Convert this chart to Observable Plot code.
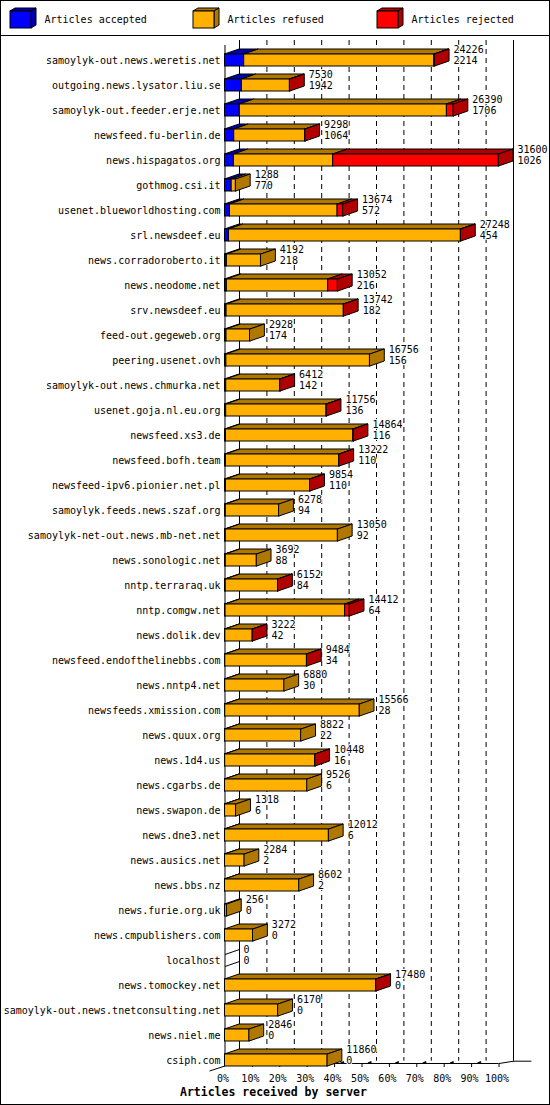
<!DOCTYPE html>
<html><head><meta charset="utf-8">
<script src="https://cdn.jsdelivr.net/npm/d3@7"></script>
<script src="https://cdn.jsdelivr.net/npm/@observablehq/plot@0.6"></script>
<style>
body{margin:0;background:#fff}
#wrap{position:relative;width:550px;height:1105px;overflow:hidden;font-family:"DejaVu Sans Mono",monospace;background:#fff}
#frame{position:absolute;left:0;top:0;width:550px;height:1105px;box-sizing:border-box;border:1px solid #000;pointer-events:none}
#sep{position:absolute;left:0;top:35px;width:550px;height:1px;background:#000}
#legend{position:absolute;left:0;top:0}
#chart{position:absolute;left:0;top:36px}
#title{position:absolute;left:180px;top:1085px;font-size:11.5px;font-weight:bold;line-height:14px;white-space:nowrap}
</style>
</head><body>
<div id="wrap">
  <svg id="legend" width="550" height="35"></svg>
  <div id="sep"></div>
  <div id="chart"></div>
  <div id="title">Articles received by server</div>
  <div id="frame"></div>
</div>
<script>
const servers = [
 "samoylyk-out.news.weretis.net","outgoing.news.lysator.liu.se","samoylyk-out.feeder.erje.net",
 "newsfeed.fu-berlin.de","news.hispagatos.org","gothmog.csi.it","usenet.blueworldhosting.com",
 "srl.newsdeef.eu","news.corradoroberto.it","news.neodome.net","srv.newsdeef.eu","feed-out.gegeweb.org",
 "peering.usenet.ovh","samoylyk-out.news.chmurka.net","usenet.goja.nl.eu.org","newsfeed.xs3.de",
 "newsfeed.bofh.team","newsfeed-ipv6.pionier.net.pl","samoylyk.feeds.news.szaf.org",
 "samoylyk-net-out.news.mb-net.net","news.sonologic.net","nntp.terraraq.uk","nntp.comgw.net",
 "news.dolik.dev","newsfeed.endofthelinebbs.com","news.nntp4.net","newsfeeds.xmission.com",
 "news.quux.org","news.1d4.us","news.cgarbs.de","news.swapon.de","news.dne3.net","news.ausics.net",
 "news.bbs.nz","news.furie.org.uk","news.cmpublishers.com","localhost","news.tomockey.net",
 "samoylyk-out.news.tnetconsulting.net","news.niel.me","csiph.com"];
const totals = [24226,7530,26390,9298,31600,1288,13674,27248,4192,13052,13742,2928,16756,6412,11756,
 14864,13222,9854,6278,13050,3692,6152,14412,3222,9484,6880,15566,8822,10448,9526,1318,12012,2284,
 8602,256,3272,0,17480,6170,2846,11860];
const accepted = [2214,1942,1706,1064,1026,770,572,454,218,216,182,174,156,142,136,116,110,110,94,92,
 88,84,64,42,34,30,28,22,16,6,6,6,2,2,0,0,0,0,0,0,0];
// (red part of each bar)
const rejected = [80,40,800,30,19122,0,690,40,0,1150,30,0,0,20,30,60,20,20,0,0,0,20,560,10,10,0,0,0,
 10,0,0,0,0,0,0,0,0,10,0,0,0];
const tickLabels = ["0%","10%","20%","30%","40%","50%","60%","70%","80%","90%","100%"];
const seriesNames = ["Articles accepted","Articles refused","Articles rejected"];
const frontColors = ["#0000ff","#ffb000","#ff0000"];
const darkColors = ["#0000b0","#b07800","#b00000"];

// geometry (pixels)
const X0 = 224.5, XW = 274, ROW = 25, DXpx = 14.5, DYpx = 5, HALF = 6;
const FONT = "DejaVu Sans Mono";

// legend
(function(){
  const svg = d3.select("#legend");
  const xs = [10, 193, 377];
  seriesNames.forEach((name, k) => {
    const x = xs[k], y = 11, w = 21, h = 17, dx = 5, dy = 3;
    svg.append("polygon").attr("points", `${x},${y} ${x+dx},${y-dy} ${x+w+dx},${y-dy} ${x+w},${y}`)
      .attr("fill", darkColors[k]).attr("stroke", "#000");
    svg.append("polygon").attr("points", `${x+w},${y} ${x+w+dx},${y-dy} ${x+w+dx},${y+h-dy} ${x+w},${y+h}`)
      .attr("fill", darkColors[k]).attr("stroke", "#000");
    svg.append("rect").attr("x", x).attr("y", y).attr("width", w).attr("height", h)
      .attr("fill", frontColors[k]).attr("stroke", "#000");
    svg.append("text").attr("x", x + 34.5).attr("y", 20).attr("dominant-baseline", "middle")
      .attr("font-family", FONT).attr("font-size", 10).text(name);
  });
})();

const xMax = d3.max(totals);
const DX = DXpx * xMax / XW;       // depth in data units
const DY = DYpx / ROW;             // depth in row units
const H = HALF / ROW;              // half front-face height in rows
const N = servers.length - 1;
const px = p => p * xMax / XW;     // pixel -> data (x)
const py = p => p / ROW;           // pixel -> rows (y)
const FLOOR = py(1063 - 60), BACKFLOOR = py(1060.7 - 60), TOP = py(40 - 60);

const rows = servers.map((s, i) => ({i, s, t: totals[i], a: accepted[i], j: rejected[i],
  r: totals[i] - accepted[i] - rejected[i]}));
const segs = rows.flatMap(d => [
  {i: d.i, x1: 0, x2: d.a, c: 0},
  {i: d.i, x1: d.a, x2: d.a + d.r, c: 1},
  {i: d.i, x1: d.a + d.r, x2: d.t, c: 2}
].filter(s => s.x2 > s.x1));
const topPts = segs.flatMap((s, k) => [
  {k, c: s.c, y: s.i - H, x1: s.x1, x2: s.x2},
  {k, c: s.c, y: s.i - H - DY, x1: s.x1 + DX, x2: s.x2 + DX}
]);
const sidePts = rows.filter(d => d.t > 0).flatMap(d => {
  const c = d.j > 0 ? 2 : d.r > 0 ? 1 : 0;
  return [
    {k: d.i, c, x: d.t, y1: d.i + H, y2: d.i - H},
    {k: d.i, c, x: d.t + DX, y1: d.i + H - DY, y2: d.i - H - DY}
  ];
});
const zeroEdges = rows.filter(d => d.t === 0).flatMap(d => [
  {x1: 0, y1: d.i - H, x2: DX, y2: d.i - H - DY},
  {x1: 0, y1: d.i + H, x2: DX, y2: d.i + H - DY}
]);
const tickVals = tickLabels.map((l, k) => k * xMax / 10);

const chart = Plot.plot({
  width: 550, height: 1069,
  x: {domain: [0, xMax], range: [X0, X0 + XW], axis: null},
  y: {domain: [0, N], range: [60 - 36, 60 - 36 + N * ROW], axis: null},
  color: {type: "identity"},
  style: {fontFamily: FONT, fontSize: "10px", background: "transparent", overflow: "visible"},
  marks: [
    // back grid
    Plot.ruleX(tickVals.slice(1, -1), {x: d => d + DX, y1: TOP, y2: BACKFLOOR, stroke: "#000", strokeDasharray: "5,4"}),
    Plot.ruleX([0, xMax], {x: d => d + DX, y1: TOP, y2: BACKFLOOR, stroke: "#000"}),
    Plot.ruleX([0], {y1: py(45 - 60), y2: FLOOR, stroke: "#000"}),
    // floor
    Plot.ruleY([FLOOR], {x1: 0, x2: xMax, stroke: "#000"}),
    Plot.link([{a: xMax, b: xMax + DX}], {x1: "a", x2: "b", y1: FLOOR, y2: BACKFLOOR, stroke: "#000"}),
    Plot.ruleY([BACKFLOOR], {x1: xMax + DX, x2: xMax + DX + px(18.4), stroke: "#000"}),
    Plot.link([0], {x1: d => d - px(15.5), x2: d => d, y1: py(1070.5 - 60), y2: py(1065.5 - 60), stroke: "#000"}),
    Plot.ruleX(tickVals.slice(1), {y1: FLOOR, y2: py(1067 - 60), stroke: "#000"}),
    Plot.link(tickVals.slice(0, -1), {x1: d => d + px(6), x2: d => d + px(9.5), y1: FLOOR - py(0.3), y2: FLOOR - py(1.8), stroke: "#000", strokeWidth: 1.6}),
    Plot.text(tickLabels, {x: (d, k) => tickVals[k], y: py(1078 - 60), text: d => d, dx: -2, fontSize: 10}),
    // bars
    Plot.areaX(topPts, {y: "y", x1: "x1", x2: "x2", z: "k", fill: d => darkColors[d.c], stroke: "#000", strokeWidth: 1, curve: "linear"}),
    Plot.rect(segs, {x1: "x1", x2: "x2", y1: d => d.i - H, y2: d => d.i + H, fill: d => frontColors[d.c], stroke: "#000", strokeWidth: 1}),
    Plot.areaY(sidePts, {x: "x", y1: "y1", y2: "y2", z: "k", fill: d => darkColors[d.c], stroke: "#000", strokeWidth: 1, curve: "linear"}),
    Plot.link(zeroEdges, {x1: "x1", y1: "y1", x2: "x2", y2: "y2", stroke: "#000"}),
    // labels
    Plot.text(rows, {x: 0, y: "i", text: "s", dx: -4.5, textAnchor: "end", fontSize: 10}),
    Plot.text(rows, {x: d => d.t + DX, y: d => d.i - py(10.5), text: d => String(d.t), dx: 4, textAnchor: "start", fontSize: 10, fill: "#000", stroke: "#fff", strokeWidth: 2}),
    Plot.text(rows, {x: d => d.t + DX, y: d => d.i + py(0.3), text: d => String(d.a), dx: 4, textAnchor: "start", fontSize: 10, fill: "#000", stroke: "#fff", strokeWidth: 2})
  ]
});
document.getElementById("chart").appendChild(chart);
</script>
</body></html>
